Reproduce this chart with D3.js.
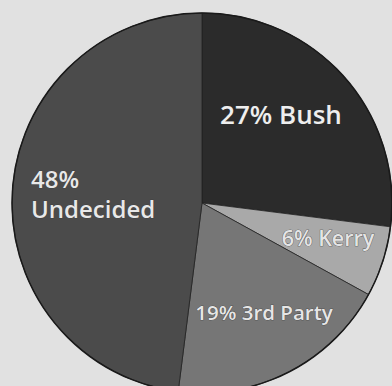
<!DOCTYPE html>
<html><head><meta charset="utf-8">
<script src="https://cdn.jsdelivr.net/npm/d3@7"></script>
<style>html,body{margin:0;padding:0;background:#e0e0e0;overflow:hidden}</style>
</head><body>
<svg id="c" width="392" height="386"></svg>
<script>
const categories = ["Bush", "Kerry", "3rd Party", "Undecided"];
const values = [27, 6, 19, 48];
const labels = [["27% Bush"], ["6% Kerry"], ["19% 3rd Party"], ["48%", "Undecided"]];
const colors = ["#2b2b2b", "#a9a9a9", "#767676", "#4b4b4b"];

const svg = d3.select("#c");
const W = 392, H = 386, cx = 202, cy = 203, r = 190;
svg.append("rect").attr("width", W).attr("height", H).attr("fill", "#e1e1e1");

const pie = d3.pie().sort(null).value(d => d)(values);
const arc = d3.arc().innerRadius(0).outerRadius(r);
const g = svg.append("g").attr("transform", `translate(${cx},${cy})`);
g.selectAll("path").data(pie).join("path")
  .attr("d", arc).attr("fill", (d, i) => colors[i])
  .attr("stroke", "#222").attr("stroke-width", 0.8);
g.append("circle").attr("r", r).attr("fill", "none").attr("stroke", "#1a1a1a").attr("stroke-width", 1.5);

const labelPos = [
  {x: 281, y: 124, size: 26, fill: "#eeeeee"},
  {x: 328, y: 246, size: 21.5, fill: "#e4e4e4"},
  {x: 264, y: 320, size: 20.5, fill: "#e6e6e6"},
  {x: 31, y: 188, size: 24, fill: "#e8e8e8", anchor: "start", lh: 30}
];
labels.forEach((lines, i) => {
  const p = labelPos[i];
  const t = svg.append("text")
    .attr("x", p.x).attr("y", p.y)
    .attr("text-anchor", p.anchor || "middle")
    .attr("font-family", "'Open Sans', 'Noto Sans', sans-serif")
    .attr("font-weight", 600)
    .attr("font-size", p.size)
    .attr("fill", p.fill)
    .attr("stroke", "#333").attr("stroke-width", 0.6)
    .attr("paint-order", "stroke");
  lines.forEach((s, j) => t.append("tspan").attr("x", p.x).attr("dy", j ? (p.lh) : 0).text(s));
});
</script>
</body></html>
